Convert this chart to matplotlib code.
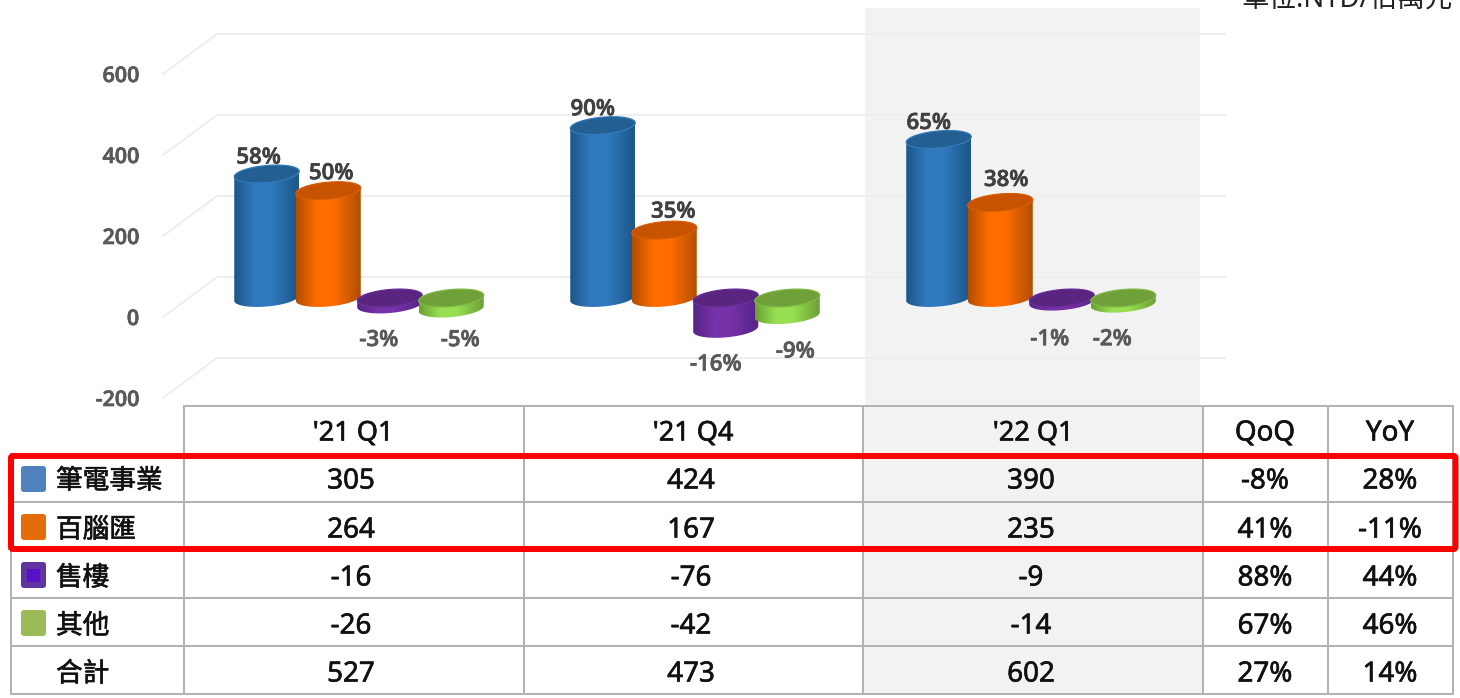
import matplotlib
matplotlib.use("Agg")
import matplotlib.pyplot as plt
import matplotlib.patheffects as pe
import numpy as np
from matplotlib.colors import LinearSegmentedColormap
from matplotlib.patches import Polygon, Rectangle, FancyBboxPatch

# ---------- data ----------
quarters = ["'21 Q1", "'21 Q4", "'22 Q1"]
series_names = ["筆電事業", "百腦匯", "售樓", "其他"]
notebook = [305, 424, 390]
mall = [264, 167, 235]
sales = [-16, -76, -9]
others = [-26, -42, -14]
totals = [527, 473, 602]
qoq = ["-8%", "41%", "88%", "67%", "27%"]
yoy = ["28%", "-11%", "44%", "46%", "14%"]
notebook_pct = ["58%", "90%", "65%"]
mall_pct = ["50%", "35%", "38%"]
sales_pct = ["-3%", "-16%", "-1%"]
others_pct = ["-5%", "-9%", "-2%"]
y_ticks = [-200, 0, 200, 400, 600]
unit_label = "單位:NTD/佰萬元"
total_name = "合計"

# ---------- style ----------
W, H = 1460, 698
LATIN = ["Open Sans", "Noto Sans CJK TC", "DejaVu Sans"]
TABLE_FONT = ["Noto Sans", "Noto Sans CJK TC", "DejaVu Sans"]
px = 72 / 100  # points per pixel
face = {  # edge, centre, top, rim
    0: ("#1d5688", "#2f79bd", "#245f92", "#2f79bd"),
    1: ("#b04e00", "#ff6d00", "#c75300", "#d85c00"),
    2: ("#562387", "#7632a8", "#5a2580", "#6a2c98"),
    3: ("#6b9f34", "#97e051", "#70a03a", "#80b845"),
}
swatch = ["#4f81bd", "#e46c0a", "#5f35a0", "#9bbb59"]
PX_PER_UNIT = 0.4065
GROUP_PX = 336.0
BAR_STEP = 61.5 / GROUP_PX
HALF_W = 32.5 / GROUP_PX
ELL_B = 8.5 / PX_PER_UNIT
SHEAR = 0.085 * GROUP_PX / PX_PER_UNIT  # value units per group unit

fig = plt.figure(figsize=(W / 100, H / 100), dpi=100, facecolor="white")


def axes_px(x0, y_top, x1, y_bot, **kw):
    return fig.add_axes([x0 / W, 1 - y_bot / H, (x1 - x0) / W, (y_bot - y_top) / H], **kw)


def heavy(lw=0.45, color="#111111"):
    return [pe.withStroke(linewidth=lw, foreground=color)]


# background layer: highlighted column band
bg = axes_px(0, 0, W, H)
bg.set_xlim(0, W); bg.set_ylim(H, 0); bg.axis("off")
bg.add_patch(Rectangle((865, 8), 335, 398, fc="#f2f2f2", ec="none"))
bg.add_patch(Rectangle((864, 406), 339, 288, fc="#f2f2f2", ec="none"))

# value axis with slanted wall lines
ay = axes_px(163, 74, 1225, 398, facecolor="none")
ay.set_ylim(-200, 600)
ay.set_xlim(0, 1062)
ay.set_xticks([])
ay.set_yticks(y_ticks)
ay.set_yticklabels([str(t) for t in y_ticks], family=LATIN, weight="semibold",
                   fontsize=15.5, color="#595959")
for lab in ay.get_yticklabels():
    lab.set_path_effects(heavy(0.5, "#595959"))
ay.tick_params(axis="y", length=0, pad=24 * px)
for s in ay.spines.values():
    s.set_visible(False)
WALL_RISE = 40 * 200 / 81.0
for t in y_ticks:
    ay.plot([0, 54, 1062], [t, t + WALL_RISE, t + WALL_RISE],
            color="#eeeeee", lw=2 * px, clip_on=False, solid_joinstyle="miter")

# bars layer
ax = fig.add_axes([0, 0, 1, 1], facecolor="none")
ax.axis("off")
ZERO_PX = 298.0
CENTER0_PX = 359.0


def ring(xc, level, t):
    x = xc + HALF_W * np.cos(t)
    return x, level + ELL_B * np.sin(t) + SHEAR * (x - xc)


def cylinder(xc, value, idx, z):
    top, bottom = (value, 0) if value >= 0 else (0, value)
    edge, centre, cap, rim = face[idx]
    t_low = np.linspace(np.pi, 2 * np.pi, 50)
    xb, yb = ring(xc, bottom, t_low)
    xt, yt = ring(xc, top, t_low[::-1])
    body = Polygon(np.c_[np.r_[xb, xt], np.r_[yb, yt]], closed=True, fc="none", ec="none",
                   transform=ax.transData, zorder=z)
    ax.add_patch(body)
    cmap = LinearSegmentedColormap.from_list(
        "c", [(0, edge), (0.32, centre), (0.58, centre), (1, edge)])
    im = ax.imshow(np.linspace(0, 1, 128)[None, :], cmap=cmap, aspect="auto",
                   extent=(xc - HALF_W, xc + HALF_W, bottom - 2 * ELL_B, top + 2 * ELL_B),
                   zorder=z, interpolation="bilinear")
    im.set_clip_path(body)
    t_all = np.linspace(0, 2 * np.pi, 100)
    xe, ye = ring(xc, top, t_all)
    ax.add_patch(Polygon(np.c_[xe, ye], closed=True, fc=cap, ec=rim, lw=1.2 * px, zorder=z + 0.5))


series_values = [notebook, mall, sales, others]
series_pct = [notebook_pct, mall_pct, sales_pct, others_pct]
# label offsets (pixels from the bar's top or bottom level anchor)
label_off = [
    [(-8, 16), (-10, 16), (-10, 16)],
    [(3, 17), (9, 18), (6, 22)],
    [(-11, -36), (-10, -36), (-12, -38)],
    [(9, -32), (8, -37), (-11, -36)],
]
z = 3
for g in range(3):
    for s in range(4):
        xc = g + (s - 1.5) * BAR_STEP
        v = series_values[s][g]
        cylinder(xc, v, s, z)
        z += 1
        dx, dy = label_off[s][g]
        col = "#404040" if v > 0 else "#595959"
        ax.annotate(series_pct[s][g], (xc, v),
                    xytext=(dx, dy), textcoords="offset pixels", ha="center", va="center",
                    family=LATIN, weight="semibold", fontsize=16,
                    color=col, zorder=200, path_effects=heavy(0.5, col))

ax.set_xlim(-CENTER0_PX / GROUP_PX, (W - CENTER0_PX) / GROUP_PX)
ax.set_ylim(-(H - ZERO_PX) / PX_PER_UNIT, ZERO_PX / PX_PER_UNIT)

# table layer
tb = fig.add_axes([0, 0, 1, 1], facecolor="none")
tb.set_xlim(0, W); tb.set_ylim(H, 0); tb.axis("off")
LINE = "#b4b1b1"
col_x = [184, 524, 863, 1203, 1328, 1453]
row_y = [406, 454, 502, 550, 598, 646, 694]
for i, x in enumerate(col_x):
    tb.plot([x, x], [406, 694], color=LINE, lw=2 * px, solid_capstyle="projecting")
tb.plot([11, 11], [454, 694], color=LINE, lw=2 * px)
tb.plot([184, 1453], [406, 406], color=LINE, lw=2 * px)
for y in row_y[1:]:
    tb.plot([11, 1453], [y, y], color=LINE, lw=2 * px)

col_c = [351, 691, 1031, 1265, 1390]
row_c = [430, 478, 527, 575, 623, 671]


def cell(x, y, s, ha="center", size=20):
    tb.text(x, y, s, ha=ha, va="center_baseline", family=TABLE_FONT, fontsize=size,
            weight="medium", color="#111111", path_effects=heavy(0.45))


for x, s in zip(col_c, quarters):
    cell(x + 2, row_c[0], s, size=19.5)
for x, s in zip(col_c[3:], ["QoQ", "YoY"]):
    cell(x, row_c[0], s)
names = series_names + [total_name]
rows = [notebook, mall, sales, others, totals]
for r in range(5):
    cell(56, row_c[r + 1], names[r], ha="left", size=19.2)
    for c in range(3):
        cell(col_c[c], row_c[r + 1], str(rows[r][c]))
    cell(col_c[3], row_c[r + 1], qoq[r])
    cell(col_c[4], row_c[r + 1], yoy[r])

for r, col in enumerate(swatch):
    yc = row_c[r + 1] + (1 if r == 0 else 0)
    tb.add_patch(FancyBboxPatch((23, yc - 11), 21, 22, boxstyle="round,pad=2,rounding_size=3",
                                fc=col, ec="none", zorder=5))
    if r == 2:
        tb.add_patch(Rectangle((27, yc - 6.5), 13, 13, fc="#5a0fc8", ec="none", zorder=6))

tb.add_patch(FancyBboxPatch((11, 456), 1444.5, 93, boxstyle="round,pad=0,rounding_size=2",
                            fc="none", ec="#ff0000", lw=6 * px, zorder=10))

tb.text(1241, 7, unit_label, ha="left", va="baseline", family=TABLE_FONT, fontsize=19.8,
        color="#222222", clip_on=False)

fig.savefig("out.png", dpi=100, facecolor="white")
